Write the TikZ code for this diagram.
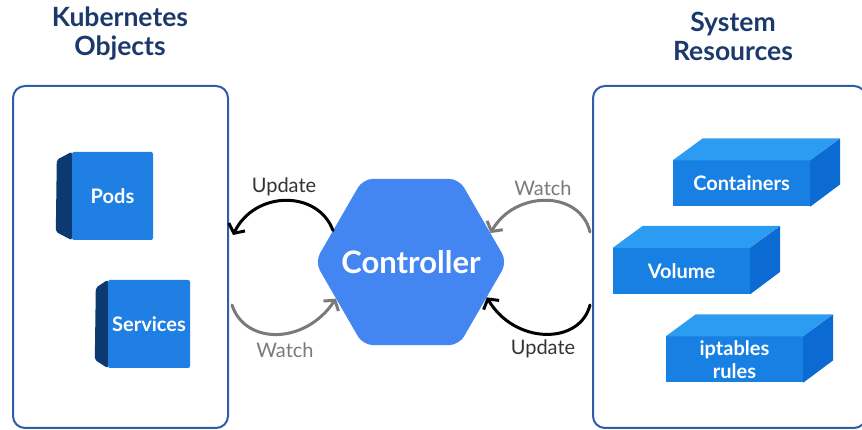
\documentclass[tikz,border=0pt]{standalone}
\usepackage{fontspec}
\setmainfont{Lato}
\usetikzlibrary{calc,shapes.geometric,arrows.meta}
\definecolor{navy}{HTML}{1B3A6B}
\definecolor{boxline}{HTML}{2F5DA8}
\definecolor{ctrlblue}{HTML}{4386F2}
\definecolor{cubefront}{HTML}{1F7FE3}
\definecolor{cubeside}{HTML}{0C3A70}
\definecolor{slabfront}{HTML}{1880E2}
\definecolor{slabtop}{HTML}{2C9CF3}
\definecolor{slabside}{HTML}{0B6BD2}
\definecolor{watchgray}{HTML}{7A7A7A}
\definecolor{updgray}{HTML}{333333}
\tikzset{
  groupbox/.style={draw=boxline, line width=2pt, rounded corners=12pt, inner sep=0pt},
  title/.style={text=navy, font=\fontsize{26.5}{29}\selectfont\bfseries, align=center},
  cubeface/.style={fill=cubefront, text=white, font=\fontsize{20}{24}\selectfont\bfseries, rounded corners=2pt, inner sep=0pt},
  slab/.style={fill=slabfront, text=white, font=\fontsize{20}{23}\selectfont\bfseries, align=center, inner sep=0pt, minimum width=137pt, minimum height=46pt},
  updarc/.style={draw=black, line width=3pt, line cap=round, -{Straight Barb[length=7pt,width=18pt]}},
  watcharc/.style={updarc, draw=watchgray},
  arclabel/.style={font=\fontsize{20}{22}\selectfont, inner sep=1pt}
}

\begin{document}
\begin{tikzpicture}[x=1pt,y=1pt]
			%%%%% START %%%%%
			\clip (0,0) rectangle (862,430);
			
			% titles
			\node[title] (k8stitle) at (120,396) {Kubernetes\\Objects};
			\node[title] (systitle) at (733,394) {System\\Resources};
			
			% the two groups
			\node[groupbox, minimum width=215pt, minimum height=342pt] (k8sbox) at (120.5,173) {};
			\node[groupbox, minimum width=273pt, minimum height=342pt] (sysbox) at (729.5,173) {};
			
			% kubernetes objects
			\node[cubeface, minimum width=81pt, minimum height=88pt] (pods) at (112.5,234) {Pods};
			\fill[cubeside, rounded corners=2pt] (pods.north west) -- ++(-15,-8) -- ++(-1,-72) -- (pods.south west) -- cycle;
			\node[cubeface, minimum width=82pt, minimum height=88pt] (svc) at (149,106) {Services};
			\fill[cubeside, rounded corners=2pt] (svc.north west) -- ++(-12,-8) -- ++(-1,-72) -- (svc.south west) -- cycle;
			
			% system resources
			\node[slab] (cont) at (741.5,246.5) {Containers};
			\node[slab] (vol) at (681.5,159) {Volume};
			\node[slab] (ipt) at (734.5,70.5) {iptables\\rules};
			\foreach \s in {cont,vol,ipt}{
				\fill[slabtop] (\s.north west) -- ++(30,22) -- ++(137,0) -- (\s.north east) -- cycle;
				\fill[slabside] (\s.north east) -- ++(30,22) -- ++(0,-46) -- (\s.south east) -- cycle;
			}
			
			% controller
			\node[regular polygon, regular polygon sides=6, minimum size=192pt, inner sep=0pt, fill=ctrlblue, rounded corners=10pt] (ctrl) at (411,168) {};
			\node[text=white, font=\fontsize{31}{34}\selectfont\bfseries] (ctrllbl) at (ctrl.center) {Controller};
			
			% free ends at the groups
			\coordinate (kupd) at (233,195);
			\coordinate (kwatch) at (232,125);
			\coordinate (swatch) at (590,198);
			\coordinate (supd) at (590,125);
			
			\draw[updarc] (ctrl.158) .. controls (318,240) and (255,240) .. (kupd);
			\draw[watcharc] (kwatch) .. controls (245,85) and (305,85) .. (ctrl.206);
			\draw[watcharc] (swatch) .. controls (580,240) and (515,240) .. (ctrl.20);
			\draw[updarc] (supd) .. controls (580,85) and (515,85) .. (ctrl.335);
			
			\node[arclabel, text=updgray] (lupd) at (284,243) {Update};
			\node[arclabel, text=watchgray] (lwatch) at (285,80) {Watch};
			\node[arclabel, text=watchgray] (rwatch) at (543,242) {Watch};
			\node[arclabel, text=updgray] (rupd) at (543,81) {Update};
			%%%%% END %%%%%
\end{tikzpicture}
\end{document}
